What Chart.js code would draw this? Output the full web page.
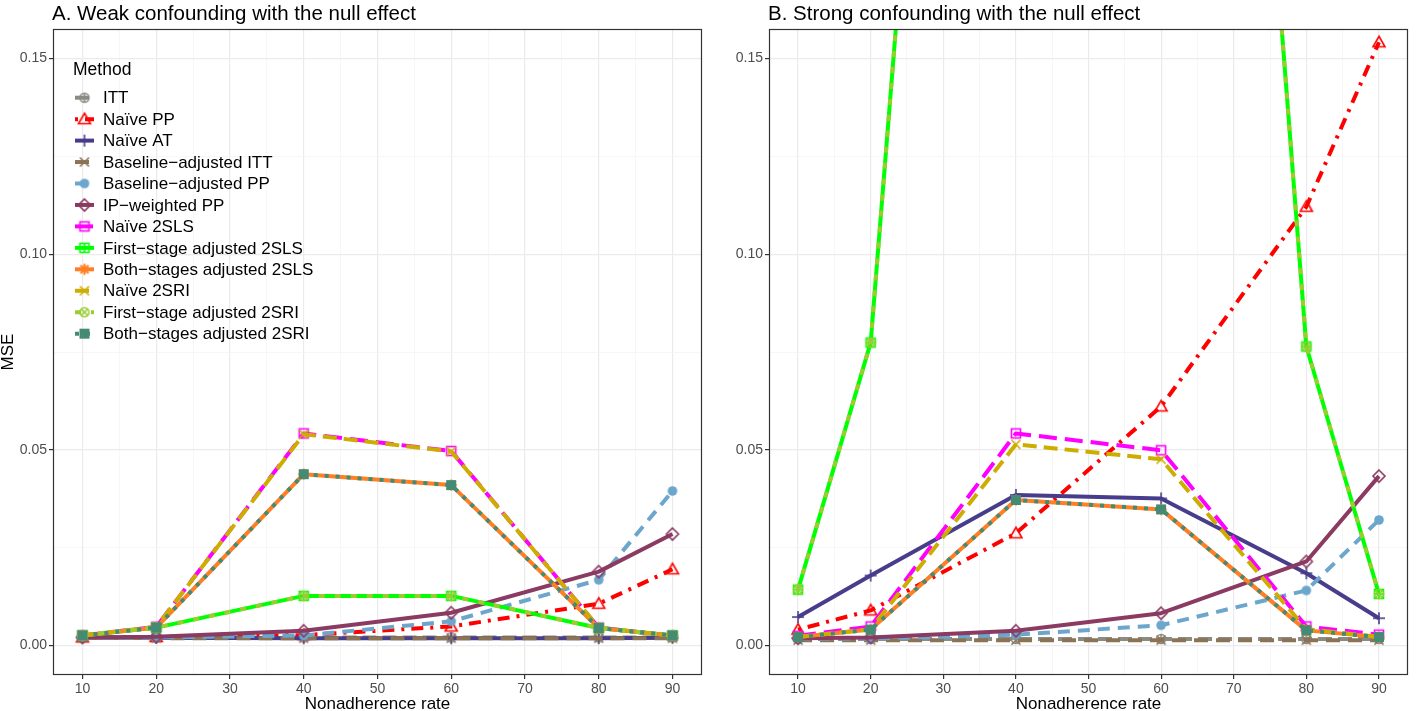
<!DOCTYPE html>
<html>
<head>
<meta charset="utf-8">
<script src="https://cdn.jsdelivr.net/npm/chart.js@4.4.0/dist/chart.umd.min.js"></script>
<style>
  html, body { margin: 0; padding: 0; background: #fff; }
  #wrap { position: relative; width: 1418px; height: 711px; }
  .panel { position: absolute; top: 0; height: 711px; }
</style>
</head>
<body>
<div id="wrap">
  <div class="panel" style="left:0;width:712px"><canvas id="chartA" width="712" height="711"></canvas></div>
  <div class="panel" style="left:712px;width:706px"><canvas id="chartB" width="706" height="711"></canvas></div>
</div>
<script>
// nonadherence rates that were simulated
const rates = [10, 20, 40, 60, 80, 90];
const xTicks = [10, 15, 20, 25, 30, 35, 40, 45, 50, 55, 60, 65, 70, 75, 80, 85, 90];
const yTicks = [0, 0.025, 0.05, 0.075, 0.1, 0.125, 0.15];

const methods = ['ITT', 'Naïve PP', 'Naïve AT', 'Baseline−adjusted ITT', 'Baseline−adjusted PP',
  'IP−weighted PP', 'Naïve 2SLS', 'First−stage adjusted 2SLS', 'Both−stages adjusted 2SLS',
  'Naïve 2SRI', 'First−stage adjusted 2SRI', 'Both−stages adjusted 2SRI'];
const colors = ['#8B8B83', '#FF0000', '#483D8B', '#8B7355', '#6CA6CD', '#8B3A62',
  '#FF00FF', '#00FF00', '#FF7F24', '#CDAD00', '#9ACD32', '#458B74'];
const shapes = ['circlePlus', 'triangle', 'plus', 'x', 'dot', 'diamond',
  'square', 'squarePlus', 'asterisk', 'x', 'circleX', 'squareFill'];
const dashes = [[14, 6], [3, 7, 12, 7], [], [14, 8], [12, 8], [],
  [18, 8], [], [], [14, 7], [6, 10], [4, 7]];

// A. weak confounding
const weakITT = [0.0022, 0.0021, 0.0021, 0.0021, 0.0021, 0.0021];
const weakNaivePP = [0.0021, 0.0022, 0.0027, 0.0049, 0.0107, 0.0195];
const weakNaiveAT = [0.0021, 0.0020, 0.0019, 0.0019, 0.0019, 0.0020];
const weakBaseITT = [0.0020, 0.0019, 0.0019, 0.0019, 0.0019, 0.0019];
const weakBasePP = [0.0021, 0.0021, 0.0026, 0.0062, 0.0168, 0.0395];
const weakIPW = [0.0021, 0.0023, 0.0038, 0.0084, 0.0189, 0.0285];
const weakNaive2SLS = [0.0026, 0.0048, 0.0542, 0.0497, 0.0046, 0.0025];
const weakFirst2SLS = [0.0026, 0.0046, 0.0127, 0.0127, 0.0045, 0.0026];
const weakBoth2SLS = [0.0026, 0.0046, 0.0438, 0.0410, 0.0045, 0.0026];
const weakNaive2SRI = [0.0026, 0.0048, 0.0540, 0.0496, 0.0046, 0.0025];
const weakFirst2SRI = [0.0026, 0.0046, 0.0127, 0.0127, 0.0045, 0.0026];
const weakBoth2SRI = [0.0026, 0.0046, 0.0438, 0.0410, 0.0045, 0.0026];

// B. strong confounding
const strongITT = [0.0017, 0.0017, 0.0017, 0.0017, 0.0017, 0.0017];
const strongNaivePP = [0.0041, 0.0090, 0.0287, 0.0611, 0.1121, 0.1541];
const strongNaiveAT = [0.0073, 0.0179, 0.0385, 0.0376, 0.0185, 0.0070];
const strongBaseITT = [0.0014, 0.0014, 0.0014, 0.0014, 0.0014, 0.0014];
const strongBasePP = [0.0018, 0.0018, 0.0028, 0.0052, 0.0141, 0.0321];
const strongIPW = [0.0019, 0.0021, 0.0038, 0.0083, 0.0215, 0.0433];
const strongNaive2SLS = [0.0025, 0.0049, 0.0542, 0.0499, 0.0049, 0.0028];
const strongFirst2SLS = [0.0143, 0.0774, 0.54, 0.555, 0.0764, 0.0132];
const strongBoth2SLS = [0.0022, 0.0041, 0.0372, 0.0348, 0.0039, 0.0022];
const strongNaive2SRI = [0.0022, 0.0042, 0.0514, 0.0476, 0.0042, 0.0022];
const strongFirst2SRI = [0.0143, 0.0774, 0.54, 0.555, 0.0764, 0.0132];
const strongBoth2SRI = [0.0022, 0.0041, 0.0372, 0.0348, 0.0039, 0.0022];

const weakSeries = [weakITT, weakNaivePP, weakNaiveAT, weakBaseITT, weakBasePP, weakIPW,
  weakNaive2SLS, weakFirst2SLS, weakBoth2SLS, weakNaive2SRI, weakFirst2SRI, weakBoth2SRI];
const strongSeries = [strongITT, strongNaivePP, strongNaiveAT, strongBaseITT, strongBasePP, strongIPW,
  strongNaive2SLS, strongFirst2SLS, strongBoth2SLS, strongNaive2SRI, strongFirst2SRI, strongBoth2SRI];

const FONT = "'Liberation Sans', Arial, Helvetica, sans-serif";

function makeMarker(shape, color) {
  const s = 18, c = document.createElement('canvas');
  c.width = s; c.height = s;
  const g = c.getContext('2d');
  const m = s / 2;
  g.strokeStyle = color; g.fillStyle = color; g.lineWidth = 1.6;
  const line = (x1, y1, x2, y2) => { g.beginPath(); g.moveTo(x1, y1); g.lineTo(x2, y2); g.stroke(); };
  const circle = (r) => { g.beginPath(); g.arc(m, m, r, 0, Math.PI * 2); g.stroke(); };
  if (shape === 'circlePlus') { circle(4.5); line(m - 4.5, m, m + 4.5, m); line(m, m - 4.5, m, m + 4.5); }
  if (shape === 'circleX') { circle(4.5); line(m - 3.2, m - 3.2, m + 3.2, m + 3.2); line(m - 3.2, m + 3.2, m + 3.2, m - 3.2); }
  if (shape === 'triangle') { g.beginPath(); g.moveTo(m, m - 6); g.lineTo(m + 6, m + 4.5); g.lineTo(m - 6, m + 4.5); g.closePath(); g.stroke(); }
  if (shape === 'plus') { line(m - 6, m, m + 6, m); line(m, m - 6, m, m + 6); }
  if (shape === 'x') { line(m - 4.5, m - 4.5, m + 4.5, m + 4.5); line(m - 4.5, m + 4.5, m + 4.5, m - 4.5); }
  if (shape === 'asterisk') {
    g.lineWidth = 2.2;
    line(m - 5.5, m, m + 5.5, m); line(m, m - 5.5, m, m + 5.5);
    line(m - 4, m - 4, m + 4, m + 4); line(m - 4, m + 4, m + 4, m - 4);
  }
  if (shape === 'dot') { g.beginPath(); g.arc(m, m, 4.8, 0, Math.PI * 2); g.fill(); }
  if (shape === 'diamond') { g.beginPath(); g.moveTo(m, m - 6); g.lineTo(m + 6, m); g.lineTo(m, m + 6); g.lineTo(m - 6, m); g.closePath(); g.stroke(); }
  if (shape === 'square') { g.strokeRect(m - 4.5, m - 4.5, 9, 9); }
  if (shape === 'squarePlus') { g.strokeRect(m - 4.5, m - 4.5, 9, 9); line(m - 4.5, m, m + 4.5, m); line(m, m - 4.5, m, m + 4.5); }
  if (shape === 'squareFill') { g.fillRect(m - 5, m - 5, 10, 10); }
  return c;
}

const markers = methods.map((_, i) => makeMarker(shapes[i], colors[i]));

function buildDatasets(series) {
  return methods.map((name, i) => ({
    label: name,
    data: rates.map((r, k) => ({ x: r, y: series[i][k] })),
    borderColor: colors[i],
    backgroundColor: colors[i],
    borderWidth: 4,
    borderDash: dashes[i],
    borderJoinStyle: 'round',
    pointStyle: markers[i],
    pointRadius: 6,
    tension: 0,
    fill: false,
    order: methods.length - i
  }));
}

const isMajorX = v => v % 10 === 0;
const isMajorY = v => Math.round(v * 1000) % 50 === 0;

const panelTitle = {
  id: 'panelTitle',
  afterDraw(chart, args, opts) {
    const ctx = chart.ctx;
    ctx.save();
    ctx.fillStyle = '#000';
    ctx.font = '20.5px ' + FONT;
    ctx.textBaseline = 'alphabetic';
    ctx.fillText(opts.text, chart.chartArea.left - 1, 20);
    ctx.restore();
  }
};

const panelBorder = {
  id: 'panelBorder',
  afterDraw(chart) {
    const a = chart.chartArea, ctx = chart.ctx;
    ctx.save();
    ctx.strokeStyle = '#333333';
    ctx.lineWidth = 1.2;
    ctx.strokeRect(a.left + 0.5, a.top + 0.5, a.right - a.left - 1, a.bottom - a.top - 1);
    ctx.restore();
  }
};

const methodLegend = {
  id: 'methodLegend',
  afterDatasetsDraw(chart, args, opts) {
    if (!opts.show) return;
    const ctx = chart.ctx;
    const x0 = chart.chartArea.left + 20;
    ctx.save();
    ctx.fillStyle = '#000';
    ctx.textBaseline = 'middle';
    ctx.font = '17.5px ' + FONT;
    ctx.fillText('Method', x0, 70);
    ctx.font = '17px ' + FONT;
    methods.forEach((name, i) => {
      const y = 97.7 + i * 21.45;
      ctx.strokeStyle = colors[i];
      ctx.lineWidth = 4;
      ctx.setLineDash(dashes[i]);
      ctx.beginPath();
      ctx.moveTo(x0 + 2, y);
      ctx.lineTo(x0 + 21, y);
      ctx.stroke();
      ctx.setLineDash([]);
      ctx.drawImage(markers[i], x0 + 11.5 - 9, y - 9);
      ctx.fillText(name, x0 + 30, y + 1);
    });
    ctx.restore();
  }
};

function makeChart(id, series, title, yWidth, rightPad, showLegend, showYTitle) {
  return new Chart(document.getElementById(id), {
    type: 'line',
    data: { datasets: buildDatasets(series) },
    plugins: [panelTitle, panelBorder, methodLegend],
    options: {
      responsive: false,
      animation: false,
      layout: { padding: { top: 29, right: rightPad, left: 0, bottom: 0 } },
      plugins: {
        legend: { display: false },
        tooltip: { enabled: false },
        panelTitle: { text: title },
        methodLegend: { show: showLegend }
      },
      scales: {
        x: {
          type: 'linear',
          min: 6,
          max: 94,
          afterBuildTicks: s => { s.ticks = xTicks.map(v => ({ value: v })); },
          afterFit: s => { s.height = 36; },
          ticks: {
            autoSkip: false,
            maxRotation: 0,
            padding: 2,
            color: '#4D4D4D',
            font: { family: FONT, size: 14 },
            callback: v => isMajorX(v) ? String(v) : ''
          },
          grid: {
            color: c => isMajorX(c.tick.value) ? '#EBEBEB' : '#F3F3F3',
            lineWidth: c => isMajorX(c.tick.value) ? 1.2 : 0.7,
            tickColor: c => isMajorX(c.tick.value) ? '#333333' : 'rgba(0,0,0,0)',
            tickLength: 4,
            tickWidth: 1.2
          },
          border: { display: false },
          title: {
            display: true,
            text: 'Nonadherence rate',
            color: '#000',
            font: { family: FONT, size: 17, lineHeight: 0.8 },
            padding: { top: 0, bottom: 0 }
          }
        },
        y: {
          type: 'linear',
          min: -0.0075,
          max: 0.1575,
          afterBuildTicks: s => { s.ticks = yTicks.map(v => ({ value: v })); },
          afterFit: s => { s.width = yWidth; },
          ticks: {
            padding: 2,
            color: '#4D4D4D',
            font: { family: FONT, size: 14 },
            callback: v => isMajorY(v) ? v.toFixed(2) : ''
          },
          grid: {
            color: c => isMajorY(c.tick.value) ? '#EBEBEB' : '#F3F3F3',
            lineWidth: c => isMajorY(c.tick.value) ? 1.2 : 0.7,
            tickColor: c => isMajorY(c.tick.value) ? '#333333' : 'rgba(0,0,0,0)',
            tickLength: 4,
            tickWidth: 1.2
          },
          border: { display: false },
          title: {
            display: showYTitle,
            text: 'MSE',
            color: '#000',
            font: { family: FONT, size: 17, lineHeight: 1 },
            padding: { top: 0, bottom: 0 }
          }
        }
      }
    }
  });
}

makeChart('chartA', weakSeries, 'A. Weak confounding with the null effect', 53, 10, true, true);
makeChart('chartB', strongSeries, 'B. Strong confounding with the null effect', 57, 1, false, false);
</script>
</body>
</html>
